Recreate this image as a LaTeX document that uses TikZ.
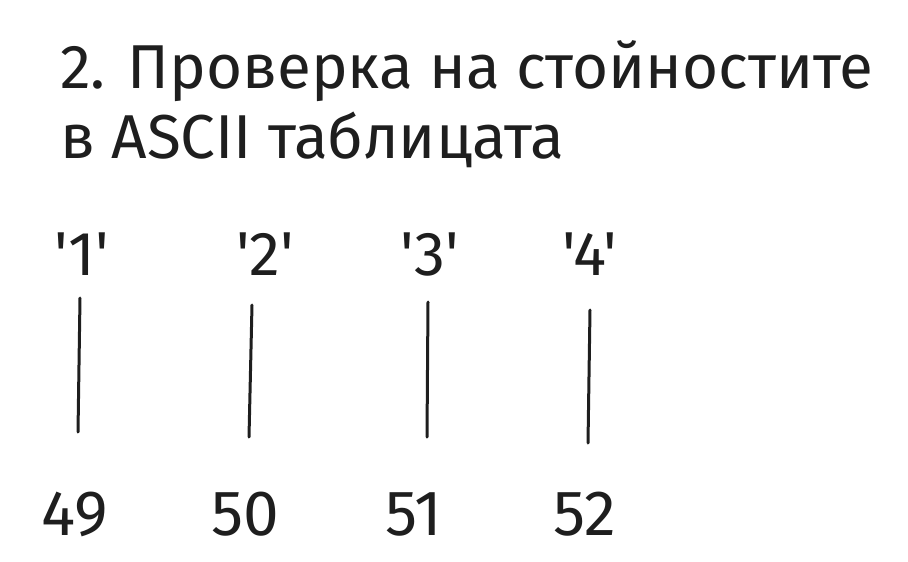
\documentclass[tikz,border=0pt]{standalone}
\usepackage{fontspec}
\setmainfont{Fira Sans}
\newfontfamily\plainfont{Fira Sans}
\usepackage{tikz}
\definecolor{inkcol}{RGB}{30,30,30}
\tikzset{
  sketch title/.style={anchor=base west,inner sep=0pt,text=inkcol,
    font=\fontsize{62}{72}\selectfont},
  sketch char/.style={anchor=base,inner sep=0pt,text=inkcol,font=\plainfont\fontsize{62}{70}\selectfont},
  sketch code/.style={anchor=base,inner sep=0pt,text=inkcol,font=\fontsize{64}{70}\selectfont},
  sketch link/.style={draw=inkcol,line width=3pt,line cap=round}
}
\begin{document}
\begin{tikzpicture}[x=1pt,y=-1pt]
  \useasboundingbox (0,0) rectangle (908,562);
  \node[sketch title] (title) at (60,88) {2. Проверка на стойностите};
  \node[sketch title] (subtitle) at (60,158) {в ASCII таблицата};
  % characters
  \node[sketch char] (c1) at (82,275) {'1'};
  \node[sketch char] (c2) at (265,275) {'2'};
  \node[sketch char] (c3) at (430,275) {'3'};
  \node[sketch char] (c4) at (590,275) {'4'};
  % codes
  \node[sketch code] (n1) at (75,535) {49};
  \node[sketch code] (n2) at (245,535) {50};
  \node[sketch code] (n3) at (414,535) {51};
  \node[sketch code] (n4) at (585,535) {52};
  % links
  \coordinate (t1) at (80,298);  \coordinate (b1) at (78,432);
  \coordinate (t2) at (252,305); \coordinate (b2) at (249,437);
  \coordinate (t3) at (428,302); \coordinate (b3) at (427,437);
  \coordinate (t4) at (590,310); \coordinate (b4) at (588,443);
  \draw[sketch link] (t1) -- (b1);
  \draw[sketch link] (t2) -- (b2);
  \draw[sketch link] (t3) -- (b3);
  \draw[sketch link] (t4) -- (b4);
\end{tikzpicture}
\end{document}
